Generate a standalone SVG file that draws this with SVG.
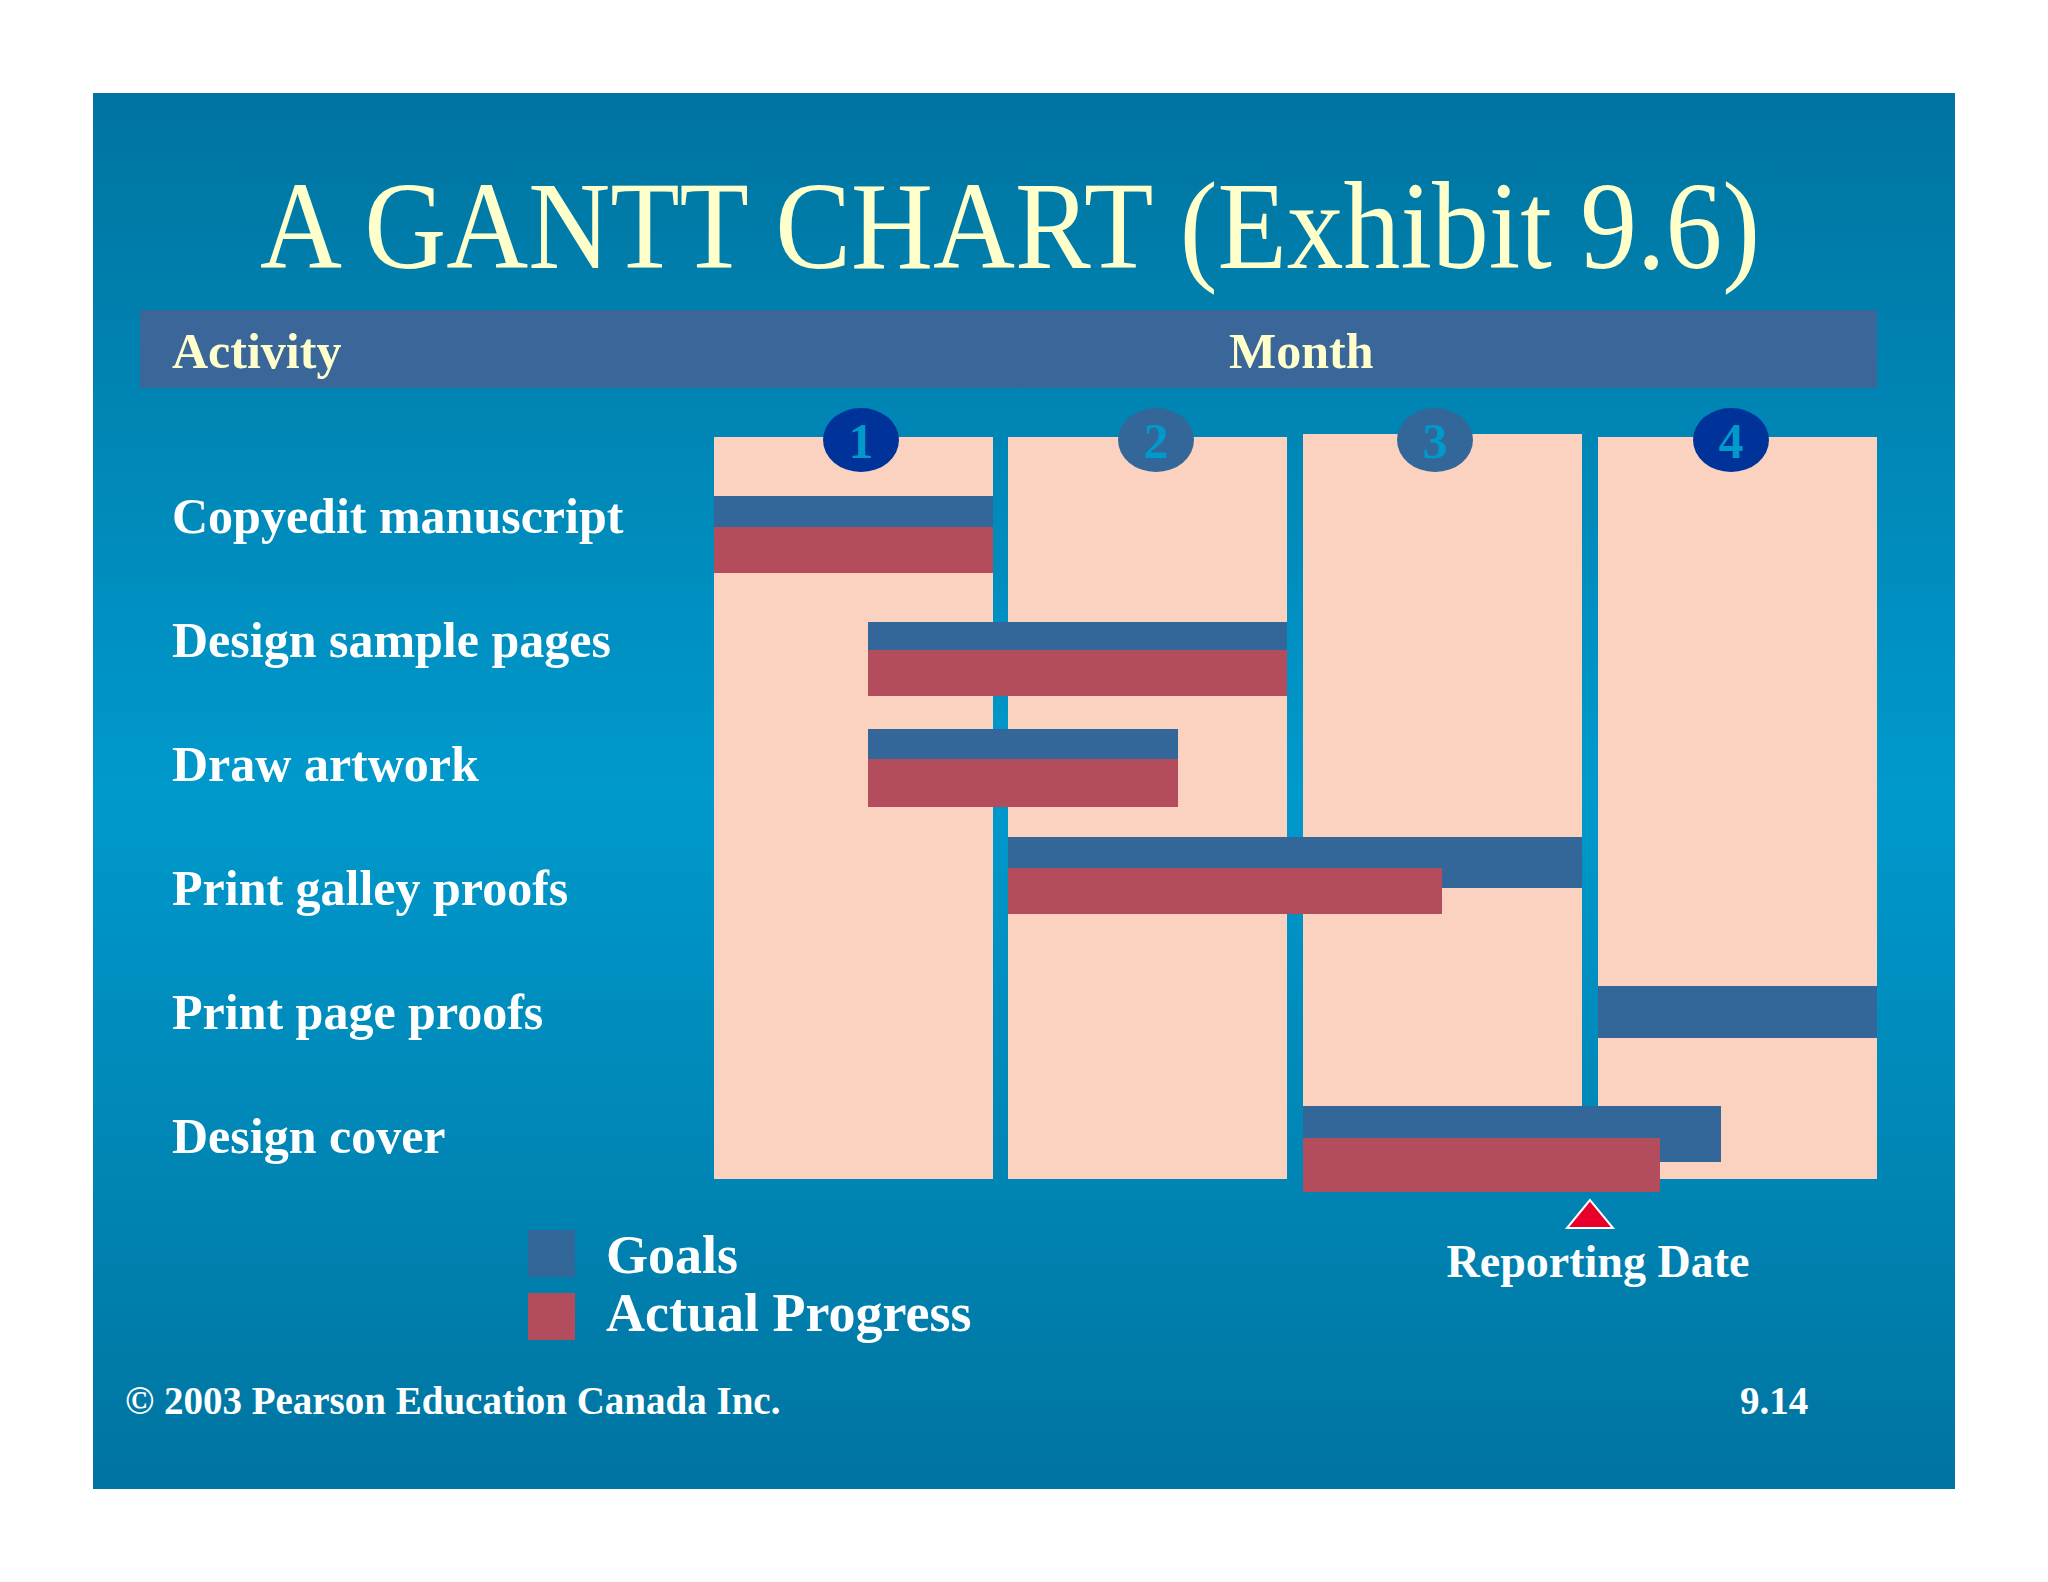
<svg xmlns="http://www.w3.org/2000/svg" width="2048" height="1582" viewBox="0 0 2048 1582">
<defs>
<linearGradient id="bg" x1="0" y1="0" x2="0" y2="1">
<stop offset="0" stop-color="#0074a0"/>
<stop offset="0.5" stop-color="#0099cc"/>
<stop offset="1" stop-color="#0074a0"/>
</linearGradient>
<style>
.lbl{font-family:"Liberation Serif",serif;font-weight:bold;fill:#ffffff;font-size:50px}
.hdr{font-family:"Liberation Serif",serif;font-weight:bold;fill:#ffffcc;font-size:50px}
.col{fill:#fbd1c0}
.goal{fill:#336699}
.act{fill:#b34d5e}
.num{font-family:"Liberation Serif",serif;font-weight:bold;fill:#0099cc;font-size:50px;text-anchor:middle}
</style>
</defs>
<rect x="0" y="0" width="2048" height="1582" fill="#ffffff"/>
<rect x="93" y="93" width="1862" height="1396" fill="url(#bg)"/>
<text x="1010" y="268" text-anchor="middle" textLength="1500" lengthAdjust="spacingAndGlyphs" style="font-family:'Liberation Serif',serif;font-size:125px;fill:#ffffcc">A GANTT CHART (Exhibit 9.6)</text>
<g id="header">
<rect x="140" y="310" width="1737" height="78" fill="#3a6699"/>
<text class="hdr" x="172" y="368">Activity</text>
<text class="hdr" x="1229" y="368">Month</text>
</g>
<g id="columns">
<rect class="col" x="714" y="437" width="279" height="742"/>
<rect class="col" x="1008" y="437" width="279" height="742"/>
<rect class="col" x="1303" y="434" width="279" height="745"/>
<rect class="col" x="1598" y="437" width="279" height="742"/>
</g>
<g id="months">
<ellipse cx="861" cy="440" rx="38" ry="32" fill="#003399"/><text class="num" x="861" y="458">1</text>
<ellipse cx="1156" cy="440" rx="38" ry="32" fill="#336699"/><text class="num" x="1156" y="458">2</text>
<ellipse cx="1435" cy="440" rx="38" ry="32" fill="#336699"/><text class="num" x="1435" y="458">3</text>
<ellipse cx="1731" cy="440" rx="38" ry="32" fill="#003399"/><text class="num" x="1731" y="458">4</text>
</g>
<g id="labels">
<text class="lbl" x="172" y="533">Copyedit manuscript</text>
<text class="lbl" x="172" y="657">Design sample pages</text>
<text class="lbl" x="172" y="781">Draw artwork</text>
<text class="lbl" x="172" y="905">Print galley proofs</text>
<text class="lbl" x="172" y="1029">Print page proofs</text>
<text class="lbl" x="172" y="1153">Design cover</text>
</g>
<g id="bars">
<rect class="goal" x="714" y="496" width="279" height="31"/>
<rect class="act" x="714" y="527" width="279" height="46"/>
<rect class="goal" x="868" y="622" width="419" height="28"/>
<rect class="act" x="868" y="650" width="419" height="46"/>
<rect class="goal" x="868" y="729" width="310" height="30"/>
<rect class="act" x="868" y="759" width="310" height="48"/>
<rect class="goal" x="1008" y="837" width="574" height="51"/>
<rect class="act" x="1008" y="868" width="434" height="46"/>
<rect class="goal" x="1598" y="986" width="279" height="52"/>
<rect class="goal" x="1303" y="1106" width="418" height="56"/>
<rect class="act" x="1303" y="1138" width="357" height="54"/>
</g>
<g id="reporting">
<polygon points="1590,1200 1567,1228 1613,1228" fill="#e8002a" stroke="#ffffff" stroke-width="2"/>
<text class="lbl" x="1598" y="1277" text-anchor="middle" style="font-size:46px">Reporting Date</text>
</g>
<g id="legend">
<rect class="goal" x="528" y="1230" width="47" height="47"/>
<rect class="act" x="528" y="1293" width="47" height="47"/>
<text class="lbl" x="606" y="1273" style="font-size:54px">Goals</text>
<text class="lbl" x="606" y="1331" style="font-size:54px">Actual Progress</text>
</g>
<text class="lbl" x="125" y="1414" style="font-size:39px">© 2003 Pearson Education Canada Inc.</text>
<text class="lbl" x="1740" y="1414" style="font-size:39px">9.14</text>
</svg>
